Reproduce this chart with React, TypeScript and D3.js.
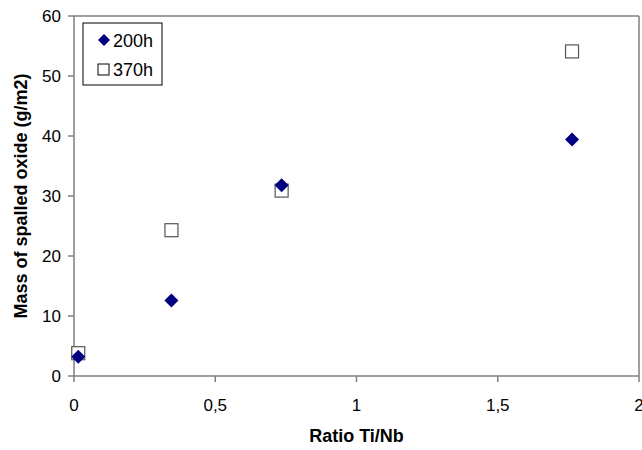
import React from "react";
import * as d3 from "d3";

const ratio = [0.015, 0.345, 0.735, 1.763];
const mass200h = [3.2, 12.6, 31.8, 39.4];
const mass370h = [3.8, 24.3, 30.9, 54.1];
const xTicks = [0, 0.5, 1, 1.5, 2];
const yTicks = [0, 10, 20, 30, 40, 50, 60];
const seriesNames = ["200h", "370h"];

const W = 642, H = 450;
const L = 74, R = 639, T = 16, B = 376;
const font = "'Liberation Sans', Arial, sans-serif";
const axisColor = "#808080";
const fmt = (v: number) => String(v).replace(".", ",");

export default function App() {
  const x = d3.scaleLinear().domain([0, 2]).range([L, R]);
  const y = d3.scaleLinear().domain([0, 60]).range([B, T]);
  const diamond = (cx: number, cy: number, r = 7) =>
    `M${cx},${cy - r}L${cx + r},${cy}L${cx},${cy + r}L${cx - r},${cy}Z`;
  return (
    <svg width={W} height={H} style={{ position: "absolute", left: 0, top: 0, background: "#fff" }}>
      <rect x={0} y={0} width={W} height={H} fill="#fff" />
      {/* frame */}
      <line x1={L} y1={T} x2={R} y2={T} stroke={axisColor} strokeWidth={1.5} />
      <line x1={R} y1={T} x2={R} y2={B} stroke={axisColor} strokeWidth={1.5} />
      <line x1={L} y1={T} x2={L} y2={B} stroke={axisColor} strokeWidth={1.5} />
      <line x1={L} y1={B} x2={R} y2={B} stroke={axisColor} strokeWidth={1.5} />
      {yTicks.map((t) => (
        <g key={"y" + t}>
          <line x1={L - 6} x2={L} y1={y(t)} y2={y(t)} stroke={axisColor} strokeWidth={1.5} />
          <text x={L - 13} y={y(t) + 6} textAnchor="end" fontFamily={font} fontSize={17} fill="#000">
            {t}
          </text>
        </g>
      ))}
      {xTicks.map((t) => (
        <g key={"x" + t}>
          <line x1={x(t)} x2={x(t)} y1={B} y2={B + 6} stroke={axisColor} strokeWidth={1.5} />
          <text x={x(t)} y={B + 35} textAnchor="middle" fontFamily={font} fontSize={17} fill="#000">
            {fmt(t)}
          </text>
        </g>
      ))}
      <text x={(L + R) / 2} y={442} textAnchor="middle" fontFamily={font} fontSize={18} fontWeight="bold">
        Ratio Ti/Nb
      </text>
      <text
        transform={`translate(27,${(T + B) / 2}) rotate(-90)`}
        textAnchor="middle"
        fontFamily={font}
        fontSize={18}
        fontWeight="bold"
      >
        Mass of spalled oxide (g/m2)
      </text>
      {ratio.map((r, i) => (
        <rect
          key={"s" + i}
          x={x(r) - 6.5}
          y={y(mass370h[i]) - 6.5}
          width={13}
          height={13}
          fill="#fff"
          stroke="#555"
          strokeWidth={1.2}
        />
      ))}
      {ratio.map((r, i) => (
        <path key={"d" + i} d={diamond(x(r), y(mass200h[i]))} fill="#000080" />
      ))}
      {/* legend */}
      <rect x={83} y={23} width={79} height={62} fill="#fff" stroke="#000" strokeWidth={1} />
      <path d={diamond(104, 40, 6)} fill="#000080" />
      <text x={113} y={47} fontFamily={font} fontSize={18}>{seriesNames[0]}</text>
      <rect x={98} y={64} width={11} height={11} fill="#fff" stroke="#000" strokeWidth={1} />
      <text x={113} y={76} fontFamily={font} fontSize={18}>{seriesNames[1]}</text>
    </svg>
  );
}
